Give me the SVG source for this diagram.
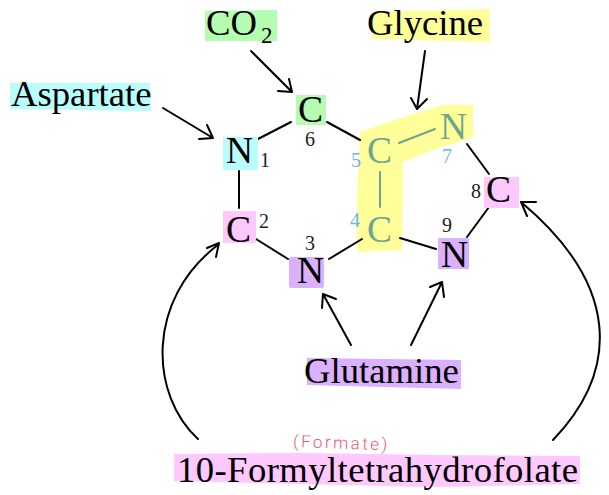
<svg xmlns="http://www.w3.org/2000/svg" width="609" height="495" viewBox="0 0 609 495">
<style>
text{font-family:"Liberation Serif","Times New Roman",serif;fill:#000}
.b{font-size:36.7px}
.a{font-size:37.5px}
.n{font-size:20px;fill:#222}
.m{font-size:20px;fill:#6bb5f5}
.t{fill:#6fa58f}
.l{fill:none;stroke:#000;stroke-width:2;stroke-linecap:round;stroke-linejoin:round}
.g{stroke:#6fa58f}
.cy{fill:#b9fdff}.gr{fill:#b5fbb0}.ye{fill:#ffff99}.pk{fill:#ffc8ff}.pu{fill:#dab0ff}
.f{font-family:Roboto,"Liberation Sans",sans-serif;font-size:17px;fill:#ee5a70;font-weight:300}
</style>
<rect width="609" height="495" fill="#fff"/>
<g id="fused-highlight"><polygon class="ye" points="360,132 380,125 410,115 443,105 473,105 473,137 433,150 403,162 402,250 357,252 357,200"/></g>
<g id="connectors">
<path class="l" d="M258,139L291,122M239,171V208M256,239L288,259M329,259L362,239M327,122L360,140M400,238L436,249M467,237L489,207M467,144L489,174"/>
<path class="l g" d="M380,172V207M399,143L435,129"/>
<path class="l" d="M163,108L213,138M207,125L213,138L199,139"/>
<path class="l" d="M251,51L292,92M289,79L292,92L278,91"/>
<path class="l" d="M425,51L417,109M411,98L417,109L427,99"/>
<path class="l" d="M351,345L323,294M322,308L323,294L336,299"/>
<path class="l" d="M411,345L442,282M430,287L442,282L444,297"/>
<path class="l" d="M198,439C150,395 145,300 219,244M207,248L219,243L216,257"/>
<path class="l" d="M553,440C620,370 620,285 521,202M536,202L521,202L527,216"/>
</g>
<g id="aspartate"><polygon class="cy" points="10,83 150,83 151,111 10,109"/><text class="b" x="11" y="106">Aspartate</text></g>
<g id="co2"><polygon class="gr" points="205,11 277,10 277,41 205,41"/><text class="b" x="206" y="35">CO</text><text x="261" y="43" font-size="23">2</text></g>
<g id="glycine"><polygon class="ye" points="372,12 490,9 490,42 372,39"/><text class="b" x="367" y="35">Glycine</text></g>
<g id="glutamine"><polygon class="pu" points="307,358 461,360 461,389 307,385"/><text class="b" x="304" y="383">Glutamine</text></g>
<g id="formyl"><polygon class="pk" points="174,454 300,453 440,455 580,456 580,484 430,487 300,484 174,481"/><text class="b" x="177" y="482" textLength="401" lengthAdjust="spacing">10-Formyltetrahydrofolate</text></g>
<g id="formate"><text class="f" x="293" y="447" textLength="94" transform="rotate(2 293 447)">(Formate)</text></g>
<g id="n1"><rect class="cy" x="223" y="137" width="35" height="33"/><text class="a" x="226" y="163">N</text><text class="n" x="260" y="167">1</text></g>
<g id="c2"><rect class="pk" x="223" y="211" width="33" height="32"/><text class="a" x="226" y="242">C</text><text class="n" x="259" y="228">2</text></g>
<g id="n3"><rect class="pu" x="289" y="257" width="35" height="31" rx="2"/><text class="a" x="297" y="283">N</text><text class="n" x="305" y="250">3</text></g>
<g id="c4"><text class="a t" x="367" y="242">C</text><text class="m" x="350" y="227">4</text></g>
<g id="c5"><text class="a t" x="367" y="163">C</text><text class="m" x="351" y="167">5</text></g>
<g id="c6"><rect class="gr" x="296" y="95" width="30" height="30"/><text class="a" x="298" y="122">C</text><text class="n" x="305" y="146">6</text></g>
<g id="n7"><text class="a t" x="440" y="139">N</text><text class="m" x="442" y="163">7</text></g>
<g id="c8"><rect class="pk" x="484" y="177" width="35" height="31"/><text class="a" x="486" y="202">C</text><text class="n" x="471" y="198">8</text></g>
<g id="n9"><rect class="pu" x="438" y="238" width="31" height="31"/><text class="a" x="441" y="267">N</text><text class="n" x="442" y="232">9</text></g>
</svg>
